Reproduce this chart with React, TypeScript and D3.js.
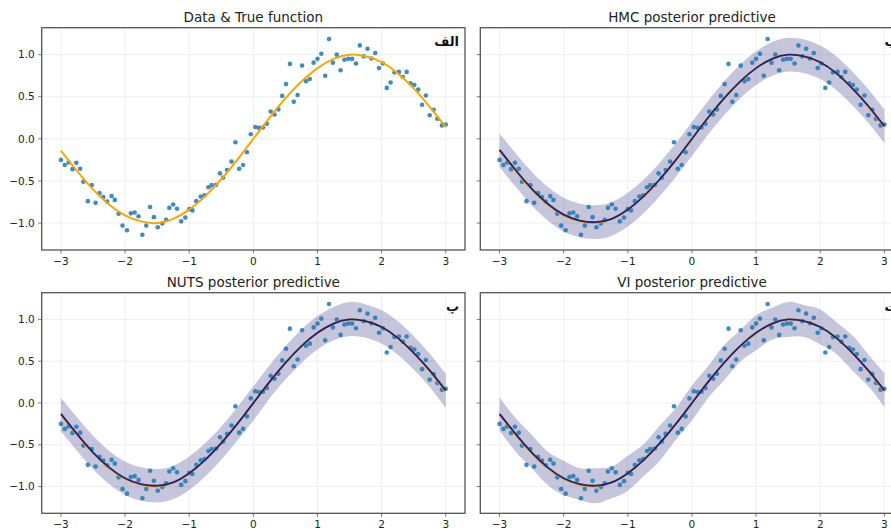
import * as d3 from 'd3';

const dataX = [
  -3.0, -2.94, -2.88, -2.82, -2.76, -2.7, -2.65, -2.58, -2.52, -2.46,
  -2.4, -2.34, -2.28, -2.21, -2.16, -2.1, -2.04, -1.97, -1.91, -1.85,
  -1.79, -1.73, -1.67, -1.61, -1.55, -1.49, -1.42, -1.36, -1.31, -1.25,
  -1.19, -1.125, -1.06, -1.0, -0.95, -0.89, -0.82, -0.76, -0.7, -0.65,
  -0.58, -0.52, -0.47, -0.41, -0.34, -0.28, -0.22, -0.16, -0.1, -0.04,
  0.03, 0.09, 0.15, 0.21, 0.27, 0.33, 0.39, 0.45, 0.51, 0.57,
  0.63, 0.69, 0.76, 0.82, 0.88, 0.94, 1.0, 1.06, 1.12, 1.18,
  1.24, 1.3, 1.36, 1.42, 1.48, 1.54, 1.6, 1.66, 1.72, 1.78,
  1.84, 1.9, 1.96, 2.02, 2.08, 2.14, 2.2, 2.27, 2.33, 2.39,
  2.45, 2.51, 2.57, 2.63, 2.69, 2.75, 2.81, 2.87, 2.94, 3.0
];
const dataY = [
  -0.25, -0.31, -0.28, -0.36, -0.285, -0.355, -0.51, -0.74, -0.55, -0.76,
  -0.645, -0.69, -0.745, -0.68, -0.725, -0.89, -1.03, -1.085, -0.885, -0.875,
  -0.92, -1.14, -1.03, -0.81, -0.93, -1.05, -1.005, -0.96, -0.82, -0.78,
  -0.83, -0.98, -0.935, -0.835, -0.85, -0.74, -0.685, -0.67, -0.575, -0.55,
  -0.545, -0.41, -0.46, -0.37, -0.27, -0.04, -0.355, -0.31, -0.16, 0.055,
  0.14, 0.13, 0.135, 0.18, 0.325, 0.29, 0.35, 0.51, 0.65, 0.89,
  0.44, 0.52, 0.87, 0.685, 0.71, 0.905, 0.95, 1.01, 0.75, 1.185,
  0.905, 1.0, 0.815, 0.94, 0.95, 0.95, 0.895, 1.11, 0.98, 1.07,
  0.955, 1.02, 0.84, 0.895, 0.605, 0.67, 0.79, 0.795, 0.735, 0.795,
  0.66, 0.64, 0.585, 0.405, 0.515, 0.28, 0.345, 0.24, 0.16, 0.17
];

// curve sample positions
const curveX = [
  -3, -2.75, -2.5, -2.25, -2, -1.75, -1.5, -1.25, -1, -0.75, -0.5, -0.25,
  0, 0.25, 0.5, 0.75, 1, 1.25, 1.5, 1.75, 2, 2.25, 2.5, 2.75, 3
];
const trueY = [
  -0.14, -0.38, -0.6, -0.78, -0.91, -0.98, -1.0, -0.95, -0.84, -0.68, -0.48, -0.25,
  0.0, 0.25, 0.48, 0.68, 0.84, 0.95, 1.0, 0.98, 0.91, 0.78, 0.6, 0.38, 0.14
];
const meanY = [
  -0.13, -0.37, -0.59, -0.77, -0.9, -0.97, -0.99, -0.95, -0.84, -0.68, -0.48, -0.25,
  0.0, 0.25, 0.48, 0.68, 0.84, 0.95, 1.0, 0.98, 0.91, 0.78, 0.6, 0.39, 0.15
];
const hmcLower = [
  -0.33, -0.57, -0.79, -0.97, -1.1, -1.17, -1.19, -1.15, -1.04, -0.88, -0.68, -0.45,
  -0.2, 0.05, 0.28, 0.48, 0.64, 0.75, 0.8, 0.78, 0.71, 0.58, 0.4, 0.19, -0.05
];
const hmcUpper = [
  0.06, -0.17, -0.39, -0.57, -0.7, -0.77, -0.79, -0.75, -0.64, -0.48, -0.28, -0.05,
  0.2, 0.45, 0.68, 0.88, 1.04, 1.15, 1.2, 1.18, 1.11, 0.98, 0.8, 0.59, 0.35
];
const nutsLower = [
  -0.34, -0.57, -0.79, -0.97, -1.1, -1.17, -1.19, -1.15, -1.04, -0.88, -0.68, -0.45,
  -0.21, 0.05, 0.28, 0.48, 0.64, 0.75, 0.8, 0.78, 0.71, 0.58, 0.4, 0.19, -0.06
];
const nutsUpper = [
  0.06, -0.17, -0.39, -0.57, -0.7, -0.77, -0.79, -0.75, -0.64, -0.48, -0.28, -0.05,
  0.2, 0.45, 0.68, 0.88, 1.04, 1.15, 1.21, 1.18, 1.11, 0.98, 0.8, 0.59, 0.35
];
const viLower = [
  -0.33, -0.58, -0.78, -0.98, -1.1, -1.16, -1.2, -1.14, -1.05, -0.87, -0.69, -0.44,
  -0.21, 0.06, 0.27, 0.49, 0.63, 0.76, 0.79, 0.79, 0.7, 0.59, 0.39, 0.2, -0.05
];
const viUpper = [
  0.07, -0.18, -0.38, -0.58, -0.69, -0.78, -0.78, -0.76, -0.63, -0.49, -0.27, -0.06,
  0.21, 0.44, 0.69, 0.87, 1.05, 1.14, 1.21, 1.17, 1.12, 0.97, 0.81, 0.58, 0.36
];

const titles = ['Data & True function', 'HMC posterior predictive', 'NUTS posterior predictive', 'VI posterior predictive'];
const letters = ['الف', 'ب', 'پ', 'ت'];
const xTicks = [-3, -2, -1, 0, 1, 2, 3];
const yTicks = [-1.0, -0.5, 0.0, 0.5, 1.0];

const bands = [null, [hmcLower, hmcUpper], [nutsLower, nutsUpper], [viLower, viUpper]];

const FONT = '"DejaVu Sans", sans-serif';

function Panel({ left, top, width, height, idx, showYLabels }) {
  const x = d3.scaleLinear().domain([-3.3, 3.3]).range([0, width]);
  const y = d3.scaleLinear().domain([-1.32, 1.32]).range([height, 0]);

  const line = d3.line<number>()
    .x((d, i) => x(curveX[i]))
    .y((d) => y(d))
    .curve(d3.curveNatural);

  const band = bands[idx];
  const area = band
    ? d3.area<number>()
        .x((d, i) => x(curveX[i]))
        .y0((d, i) => y(band[0][i]))
        .y1((d, i) => y(band[1][i]))
        .curve(d3.curveNatural)(curveX)
    : null;

  const fmt = d3.format('.1f');

  return (
    <g transform={`translate(${left},${top})`}>
      <text x={width / 2} y={-6} textAnchor="middle" fontSize={13.5} fill="#222" fontFamily={FONT}>
        {titles[idx]}
      </text>
      {/* grid */}
      {xTicks.map((t) => (
        <line key={'gx' + t} x1={x(t)} x2={x(t)} y1={0} y2={height} stroke="#ebebeb" strokeWidth={0.8} />
      ))}
      {yTicks.map((t) => (
        <line key={'gy' + t} x1={0} x2={width} y1={y(t)} y2={y(t)} stroke="#ebebeb" strokeWidth={0.8} />
      ))}
      {area && <path d={area} fill="midnightblue" fillOpacity={0.25} />}
      {dataX.map((d, i) => (
        <circle key={i} cx={x(d)} cy={y(dataY[i])} r={2.3} fill="#1f77b4" fillOpacity={0.85} />
      ))}
      <path d={line(trueY)} fill="none" stroke="orange" strokeWidth={idx === 0 ? 2 : 1.8} />
      {band && <path d={line(meanY)} fill="none" stroke="#241f6e" strokeWidth={1.8} />}
      <text x={width - 6} y={18} textAnchor="end" fontSize={13} fontWeight="bold" fill="#111" fontFamily={FONT}>
        {letters[idx]}
      </text>
      <rect x={0} y={0} width={width} height={height} fill="none" stroke="#555" strokeWidth={1.3} />
      {/* x axis */}
      {xTicks.map((t) => (
        <g key={'tx' + t} transform={`translate(${x(t)},${height})`}>
          <line y1={0} y2={3.5} stroke="#555" strokeWidth={0.8} />
          <text y={15} textAnchor="middle" fontSize={10.5} fill="#222" fontFamily={FONT}>
            {d3.format('d')(t)}
          </text>
        </g>
      ))}
      {/* y axis */}
      {yTicks.map((t) => (
        <g key={'ty' + t} transform={`translate(0,${y(t)})`}>
          <line x1={0} x2={-3.5} stroke="#555" strokeWidth={0.8} />
          {showYLabels && (
            <text x={-7} dy="0.35em" textAnchor="end" fontSize={10.5} fill="#222" fontFamily={FONT}>
              {fmt(t)}
            </text>
          )}
        </g>
      ))}
    </g>
  );
}

export default function App() {
  const W = 891;
  const H = 530;
  const pw = 423.3;
  const cols = [41.7, 480.3];
  const rows = [27.7, 292.7];
  const heights = [222.3, 220.6];
  return (
    <svg width={W} height={H} style={{ position: 'absolute', left: 0, top: 0, background: '#fff' }}>
      {titles.map((t, i) => (
        <Panel
          key={t}
          idx={i}
          left={cols[i % 2]}
          top={rows[Math.floor(i / 2)]}
          width={pw}
          height={heights[Math.floor(i / 2)]}
          showYLabels={i % 2 === 0}
        />
      ))}
    </svg>
  );
}
